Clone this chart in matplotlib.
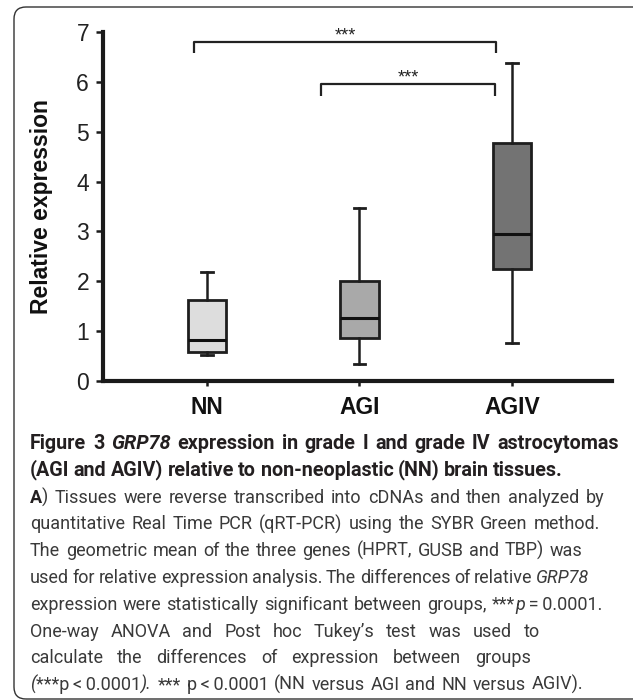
import matplotlib
matplotlib.use("Agg")
import matplotlib.pyplot as plt
from matplotlib.patches import FancyBboxPatch
from matplotlib.transforms import IdentityTransform

plt.rcParams['font.family'] = ['Liberation Sans', 'DejaVu Sans']

# ---------------- data ----------------
groups = ['NN', 'AGI', 'AGIV']
whisker_low = [0.52, 0.34, 0.76]
q1_vals = [0.58, 0.86, 2.25]
median_vals = [0.83, 1.26, 2.95]
q3_vals = [1.62, 2.01, 4.77]
whisker_high = [2.19, 3.47, 6.38]
box_colors = ['#dddddd', '#a9a9a9', '#737373']
y_ticks = [0, 1, 2, 3, 4, 5, 6, 7]
y_label = 'Relative expression'

# significance brackets: (x_left, x_right, y_top, y_leg_end, label)
brackets = [(-0.085, 1.895, 6.80, 6.58, '***'),
            (0.75, 1.89, 5.96, 5.72, '***')]

caption_lines = [
    [("Figure 3 ", 'b'), ("GRP78", 'bi'), (" expression in grade I and grade IV astrocytomas", 'b')],
    [("(AGI and AGIV) relative to non-neoplastic (NN) brain tissues.", 'b')],
    [("A", 'b'), (") Tissues were reverse transcribed into cDNAs and then analyzed by", 'r')],
    [("quantitative Real Time PCR (qRT-PCR) using the SYBR Green method.", 'r')],
    [("The geometric mean of the three genes (HPRT, GUSB and TBP) was", 'r')],
    [("used for relative expression analysis. The differences of relative ", 'r'), ("GRP78", 'i')],
    [("expression were statistically significant between groups, ***", 'r'), ("p", 'i'),
     ("\u2009=\u20090.0001.", 'r')],
    [("One-way ANOVA and Post hoc Tukey\u2019s test was used to", 'r')],
    [("calculate the differences of expression between groups", 'r')],
    [("(", 'i'), ("***p\u2009<\u20090.0001", 'r'), (").", 'i'),
     (" *** p\u2009<\u20090.0001 (NN versus AGI and NN versus AGIV).", 'r')],
]
line_ends = [619, 563, 604, 600, 582, 589, 602, 540, 531, 583]

# ---------------- figure ----------------
W, H = 633, 700
fig = plt.figure(figsize=(W / 100, H / 100), dpi=100)
fig.patch.set_facecolor('white')

# rounded frame
frame = FancyBboxPatch((14, 1), 640, 692, boxstyle="round,pad=0,rounding_size=12",
                       transform=IdentityTransform(), facecolor='none',
                       edgecolor='#333333', linewidth=1.0)
fig.patches.append(frame)

ax_left, ax_right, ax_top, ax_bottom = 103, 612, 32, 381
ax = fig.add_axes([ax_left / W, 1 - ax_bottom / H, (ax_right - ax_left) / W, (ax_bottom - ax_top) / H])
ax.patch.set_alpha(0)

stats = []
for g, lo, a, m, b, hi in zip(groups, whisker_low, q1_vals, median_vals, q3_vals, whisker_high):
    stats.append(dict(label=g, whislo=lo, q1=a, med=m, q3=b, whishi=hi, fliers=[]))

ink = '#1e1e1e'
bp = ax.bxp(stats, positions=range(len(groups)), widths=0.25, patch_artist=True,
            showfliers=False, capwidths=0.075,
            boxprops=dict(linewidth=2.0, edgecolor=ink),
            whiskerprops=dict(linewidth=1.8, color=ink),
            capprops=dict(linewidth=2.0, color=ink),
            medianprops=dict(linewidth=2.2, color='#111111'))
for patch, c in zip(bp['boxes'], box_colors):
    patch.set_facecolor(c)

ax.set_xlim(-0.682, 2.656)
ax.set_ylim(0, 7)
for s in ['top', 'right']:
    ax.spines[s].set_visible(False)
for s in ['left', 'bottom']:
    ax.spines[s].set_linewidth(3.0)
    ax.spines[s].set_color('#1a1a1a')

ax.set_yticks(y_ticks)
ax.set_yticklabels([str(t) for t in y_ticks])
ax.tick_params(axis='y', direction='out', length=5, width=1.8, pad=5,
               labelsize=16.5, color='#1a1a1a', labelcolor='#222222')
ax.set_xticks(range(len(groups)))
ax.set_xticklabels(groups, fontweight='bold')
ax.tick_params(axis='x', direction='out', length=3.5, width=1.8, pad=7,
               labelsize=16.5, color='#1a1a1a', labelcolor='#111111')

ax.set_ylabel(y_label, fontsize=16.5, fontweight='bold', color='#111111')
ax.yaxis.set_label_coords((53 - ax_left) / (ax_right - ax_left), 0.5)

for x0, x1, yt, yb, lab in brackets:
    ax.plot([x0, x0, x1, x1], [yb, yt, yt, yb], color='#222222', lw=1.6,
            clip_on=False, solid_capstyle='butt')
    ax.text((x0 + x1) / 2, yt + 0.02, lab, ha='center', va='baseline',
            fontsize=13, color='#222222', clip_on=False)

# ---------------- caption ----------------
renderer = fig.canvas.get_renderer()
cap_family = ['Roboto', 'DejaVu Sans']
style_map = {
    'b': dict(fontweight='bold', fontstyle='normal', color='#231f20'),
    'bi': dict(fontweight='bold', fontstyle='italic', color='#231f20'),
    'r': dict(fontweight='normal', fontstyle='normal', color='#3a3a3a'),
    'i': dict(fontweight='normal', fontstyle='italic', color='#3a3a3a'),
}


def tokenize(segments):
    words, cur = [], []
    for text, st in segments:
        parts = text.split(' ')
        for j, part in enumerate(parts):
            if j > 0 and cur:
                words.append(cur)
                cur = []
            if part:
                cur.append((part, st))
    if cur:
        words.append(cur)
    return words


def measure(s, st, size):
    t = fig.text(0, 0, s, fontsize=size, family=cap_family, **style_map[st])
    w = t.get_window_extent(renderer).width
    t.remove()
    return w


def space_width(st, size):
    return measure('n n', st, size) - measure('nn', st, size)


def min_width(words, size, gap_factor=0.85):
    total = 0
    for wd in words:
        for p, st in wd:
            total += measure(p, st, size)
    st0 = words[0][-1][1]
    return total + gap_factor * space_width(st0, size) * (len(words) - 1)


x_start = 30
base = 12.0
tokenized = [tokenize(l) for l in caption_lines]
title_idx = [0, 1]
body_idx = list(range(2, len(caption_lines)))


def fit_size(idx):
    r = max(min_width(tokenized[i], base) / (line_ends[i] - x_start) for i in idx)
    return base / r


sizes = {}
ts = fit_size(title_idx)
bs = fit_size(body_idx)
for i in title_idx:
    sizes[i] = ts
for i in body_idx:
    sizes[i] = bs

for i, words in enumerate(tokenized):
    size = sizes[i]
    widths = [[measure(p, st, size) for p, st in wd] for wd in words]
    word_w = [sum(w) for w in widths]
    target = line_ends[i] - x_start
    gap = (target - sum(word_w)) / max(len(words) - 1, 1)
    base_y = 449 + i * 26.8
    x = x_start
    for wd, ws in zip(words, widths):
        xx = x
        for (p, st), w in zip(wd, ws):
            fig.text(xx / W, 1 - base_y / H, p, fontsize=size, family=cap_family,
                     ha='left', va='baseline', **style_map[st])
            xx += w
        x += sum(ws) + gap

fig.savefig('out.png', dpi=100, facecolor='white')
